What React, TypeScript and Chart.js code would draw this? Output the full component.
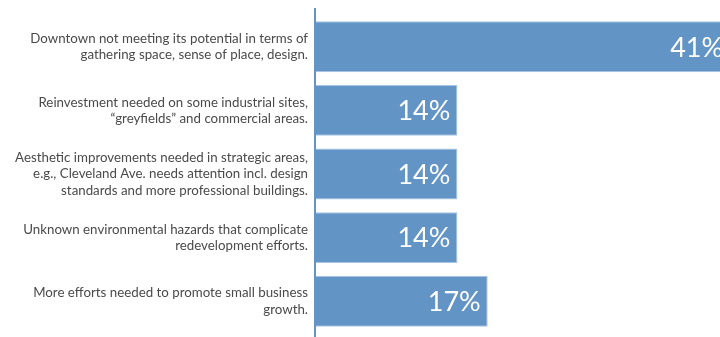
import React, { useEffect, useRef } from "react";
import { Chart, registerables } from "chart.js";

Chart.register(...registerables);

const categories: string[][] = [
  ["Downtown not meeting its potential in terms of", "gathering space, sense of place, design."],
  ["Reinvestment needed on some industrial sites,", "\u201cgreyfields\u201d and commercial areas."],
  ["Aesthetic improvements needed in strategic areas,", "e.g., Cleveland Ave. needs attention incl. design", "standards and more professional buildings."],
  ["Unknown environmental hazards that complicate", "redevelopment efforts."],
  ["More efforts needed to promote small business", "growth."],
];
const values: number[] = [41, 14, 14, 14, 17];
const valueLabels: string[] = ["41%", "14%", "14%", "14%", "17%"];

const BAR = "#6394c6";
const FONT = "Lato, 'Open Sans', sans-serif";

export default function App() {
  const ref = useRef<HTMLCanvasElement | null>(null);
  useEffect(() => {
    document.body.style.margin = "0";
    const axisLine = {
      id: "axisLine",
      afterDatasetsDraw(chart: any) {
        const { ctx, chartArea } = chart;
        ctx.save();
        ctx.fillStyle = BAR;
        ctx.fillRect(chartArea.left - 2, 8, 2, 337 - 8);
        ctx.restore();
      },
    };
    const valueLabelPlugin = {
      id: "valueLabels",
      afterDatasetsDraw(chart: any) {
        const { ctx } = chart;
        const meta = chart.getDatasetMeta(0);
        ctx.save();
        ctx.fillStyle = "#ffffff";
        ctx.font = `400 27px ${FONT}`;
        ctx.textAlign = "right";
        ctx.textBaseline = "middle";
        meta.data.forEach((bar: any, i: number) => {
          ctx.fillText(valueLabels[i], bar.x - 7, bar.y + 1);
        });
        ctx.restore();
      },
    };
    const chart = new Chart(ref.current as HTMLCanvasElement, {
      type: "bar",
      data: {
        labels: categories,
        datasets: [
          {
            data: values,
            backgroundColor: BAR,
            borderColor: "#a9c6e3",
            borderWidth: 1,
            borderSkipped: "start",
            categoryPercentage: 1,
            barPercentage: 0.8,
          },
        ],
      },
      options: {
        indexAxis: "y",
        responsive: false,
        animation: false,
        devicePixelRatio: 1,
        layout: { padding: { top: 15, bottom: 4, left: 0, right: 0 } },
        plugins: { legend: { display: false }, tooltip: { enabled: false } },
        scales: {
          x: { display: false, min: 0, max: 40 },
          y: {
            grid: { display: false },
            border: { display: false },
            ticks: {
              color: "#4a4a4a",
              padding: 0,
              font: { family: FONT, size: 13.3, lineHeight: 1.22 },
            },
            afterFit(scale: any) {
              scale.width = 316;
              scale.paddingTop = 0;
              scale.paddingBottom = 0;
            },
          },
        },
      },
      plugins: [axisLine, valueLabelPlugin],
    } as any);
    return () => chart.destroy();
  }, []);
  return (
    <div style={{ position: "fixed", left: 0, top: 0, width: 720, height: 337, background: "#fff" }}>
      <canvas ref={ref} width={720} height={337} style={{ width: 720, height: 337 }} />
    </div>
  );
}
